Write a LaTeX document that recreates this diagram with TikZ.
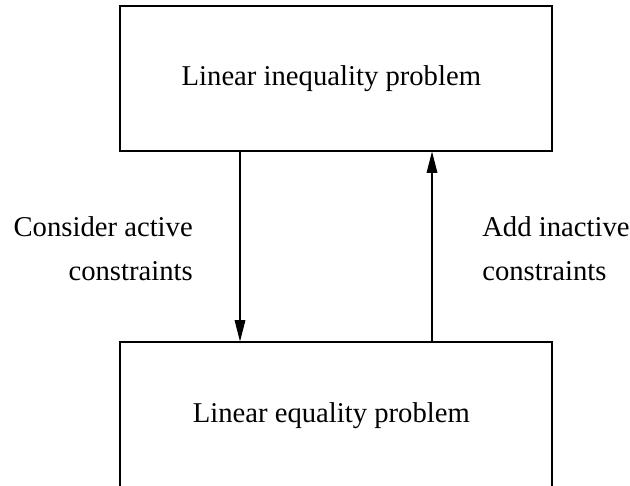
\documentclass[tikz,border=0pt]{standalone}
\usepackage{fontspec}
\setmainfont{Liberation Serif}
\usetikzlibrary{arrows.meta}
\usetikzlibrary{positioning}

\tikzset{
  box/.style={draw,line width=.8pt,minimum width=324pt,inner sep=0pt},
  lbl/.style={inner sep=0pt},
  arr/.style={line width=.8pt,-{Triangle[length=16pt,width=8pt]}}
}

\begin{document}
\begin{tikzpicture}[x=.75pt,y=-.75pt,font=\fontsize{21.5pt}{33pt}\selectfont]
  \useasboundingbox (0,0) rectangle (630,485);

  \node[box,minimum height=108.75pt] (ineq) at (336,78.5) {Linear inequality problem\hspace*{7pt}};
  \node[box,minimum height=111pt] (eq) at (336,416) {Linear equality problem\hspace*{7pt}};

  \draw[arr] ([xshift=-72pt]ineq.south) -- ([xshift=-72pt]eq.north);
  \draw[arr] ([xshift=72pt]eq.north) -- ([xshift=72pt]ineq.south);

  \node[lbl,anchor=east,align=right] (consider) at (193,249) {Consider active\\constraints};
  \node[lbl,anchor=west,align=left] (add) at (482,249) {Add inactive\\constraints};
\end{tikzpicture}
\end{document}
